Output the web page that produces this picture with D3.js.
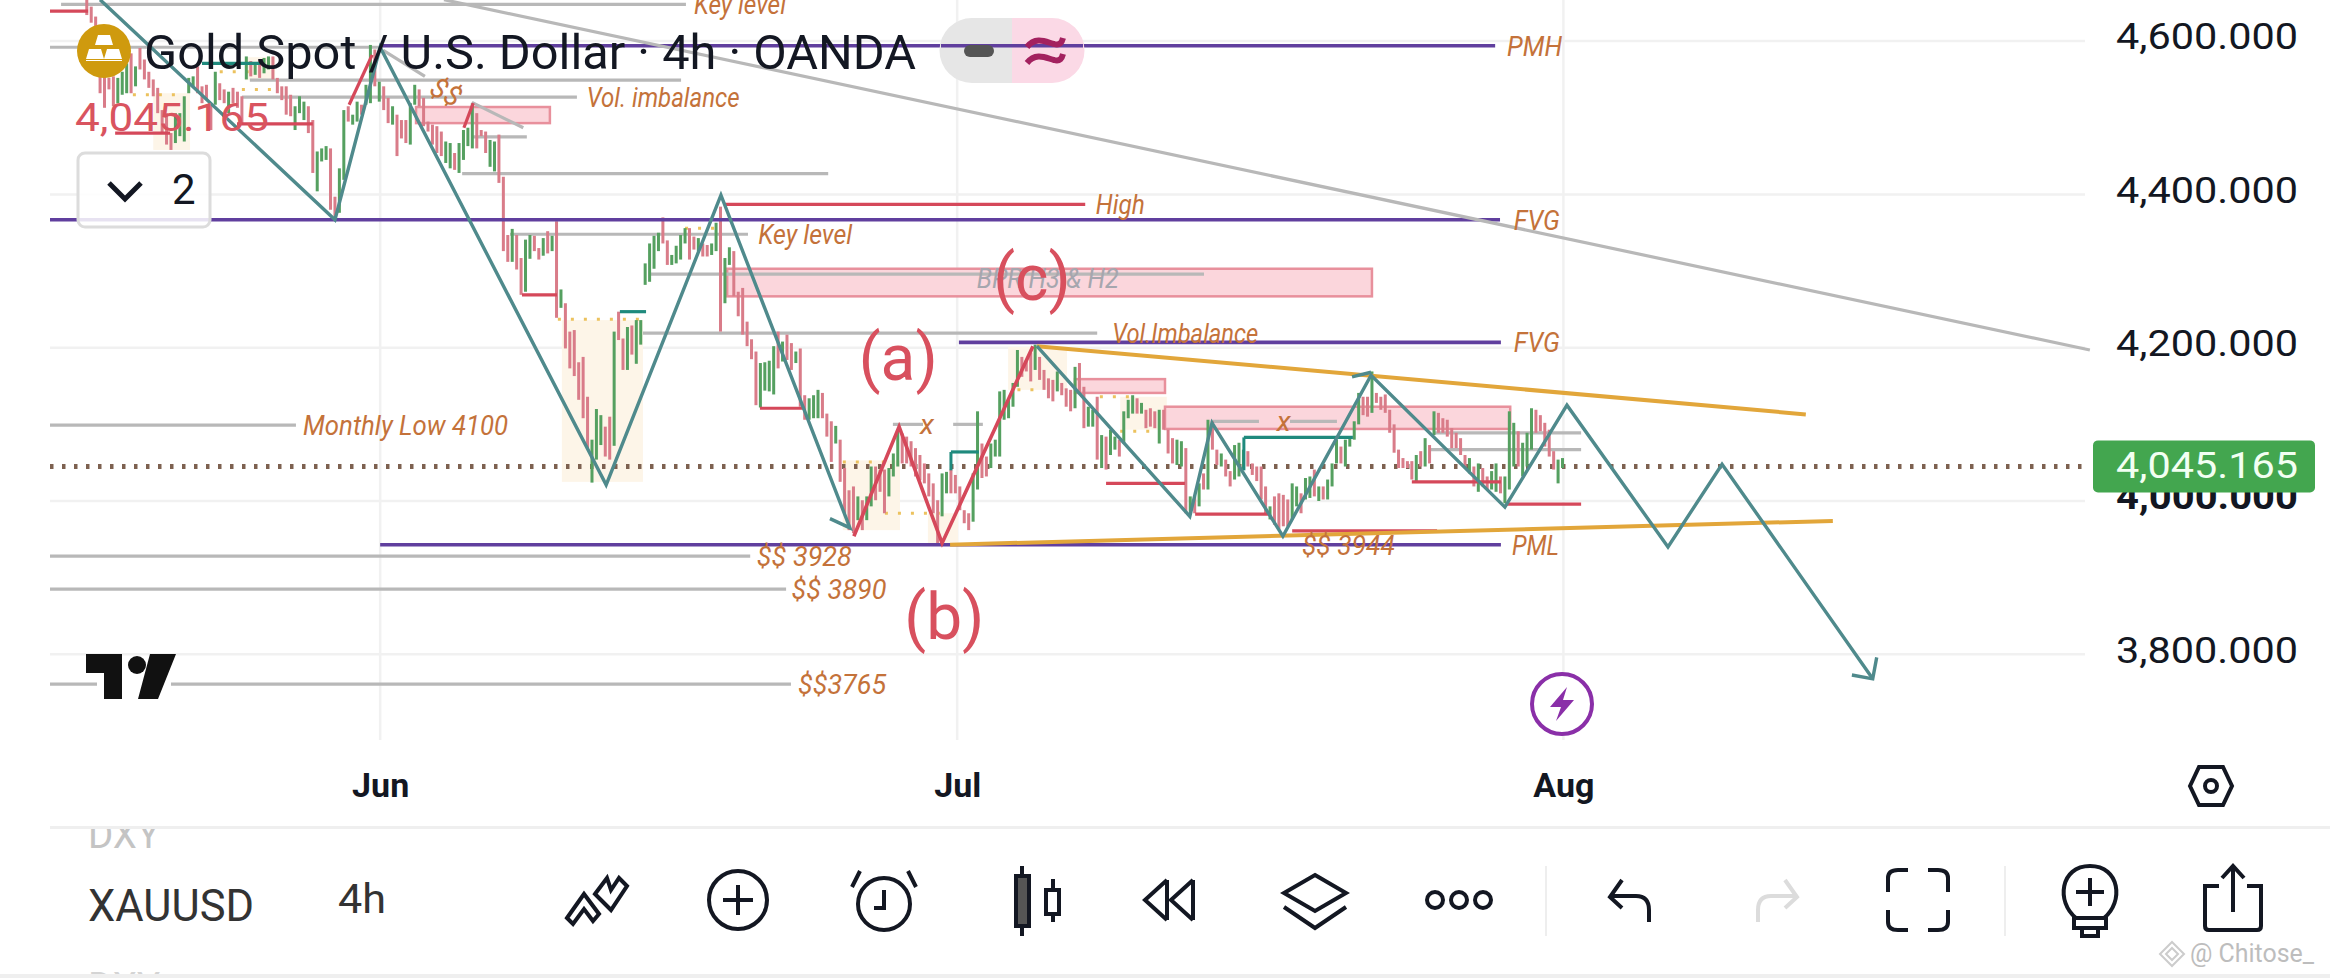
<!DOCTYPE html>
<html><head><meta charset="utf-8">
<script src="https://cdnjs.cloudflare.com/ajax/libs/d3/7.8.5/d3.min.js"></script>
<style>
html,body{margin:0;padding:0;background:#fff;overflow:hidden}
svg{display:block}
text{font-family:Roboto,"Liberation Sans",sans-serif}
.note{font-style:italic;fill:#c4723a;font-size:28px}
</style></head><body><svg id="c" width="2330" height="978"></svg>
<script>
// ---- Data ----
const priceTicks=[4600,4400,4200,4000,3800];
const monthLabels=["Jun","Jul","Aug"];
const monthBars=[66.2,196.4,333.2];
const lastPrice=4045.165;
const barHigh=[
4654,4645,4632,4589,4554,4552,4554,4552,4560,4571,
4584,4567,4591,4576,4560,4550,4539,4510,4506,4480,
4506,4506,4528,4552,4554,4567,4541,4543,4519,4560,
4545,4537,4534,4539,4534,4528,4580,4574,4571,4576,
4578,4580,4580,4552,4541,4541,4530,4515,4528,4521,
4515,4497,4456,4460,4463,4460,4397,4434,4510,4515,
4504,4521,4517,4543,4595,4589,4547,4541,4526,4515,
4504,4497,4497,4519,4543,4537,4526,4495,4491,4489,
4482,4469,4467,4454,4467,4484,4487,4519,4506,4484,
4482,4471,4469,4478,4423,4347,4355,4347,4317,4341,
4347,4346,4330,4343,4352,4346,4365,4276,4258,4221,
4223,4181,4188,4136,4080,4120,4112,4097,4110,4221,
4247,4212,4227,4229,4236,4236,4310,4336,4346,4350,
4370,4340,4321,4333,4347,4356,4356,4345,4343,4336,
4334,4336,4363,4384,4317,4331,4326,4273,4278,4234,
4211,4195,4180,4181,4183,4202,4221,4208,4217,4206,
4195,4199,4138,4134,4138,4145,4141,4114,4104,4098,
4080,4043,4014,4019,4006,4001,4006,4045,4045,4041,
4041,4043,4062,4093,4088,4084,4078,4069,4060,4049,
4036,4023,4001,4036,4038,4041,4034,4019,3988,3984,
4036,4117,4075,4058,4075,4080,4143,4145,4134,4154,
4197,4188,4184,4193,4204,4188,4171,4160,4158,4169,
4154,4147,4145,4175,4180,4149,4123,4119,4136,4086,
4084,4093,4084,4080,4117,4132,4138,4134,4128,4119,
4121,4117,4119,4119,4093,4082,4080,4078,4069,4006,
4006,4023,4036,4106,4104,4067,4062,4054,4039,4073,
4076,4067,4065,4049,4045,4045,4019,3993,4006,4010,
4008,4002,4023,4019,4010,4030,4032,4041,4019,4019,
4028,4049,4080,4071,4080,4084,4104,4141,4136,4136,
4169,4141,4136,4139,4119,4100,4067,4056,4052,4052,
4060,4065,4082,4073,4117,4115,4108,4106,4095,4089,
4082,4060,4056,4045,4049,4043,4032,4039,4049,4032,
4032,4117,4102,4091,4076,4089,4121,4119,4112,4102,
4093,4065,4054,4056];
const barLow=[
4634,4624,4613,4532,4513,4537,4515,4519,4530,4532,
4532,4541,4563,4550,4539,4528,4506,4480,4465,4458,
4467,4476,4469,4532,4541,4532,4519,4523,4484,4517,
4523,4519,4506,4519,4513,4493,4550,4554,4556,4552,
4558,4563,4550,4532,4523,4504,4502,4484,4506,4497,
4480,4428,4404,4443,4445,4380,4367,4376,4419,4495,
4491,4495,4504,4517,4519,4541,4521,4510,4493,4491,
4450,4473,4467,4465,4517,4515,4489,4482,4465,4454,
4450,4441,4434,4432,4428,4445,4463,4460,4460,4476,
4454,4436,4430,4415,4326,4312,4312,4302,4269,4273,
4316,4326,4315,4320,4323,4326,4239,4252,4199,4173,
4163,4132,4108,4069,4024,4054,4073,4058,4054,4072,
4210,4171,4171,4191,4179,4204,4282,4286,4303,4326,
4336,4308,4308,4310,4315,4336,4315,4328,4326,4319,
4319,4321,4326,4221,4258,4308,4267,4241,4217,4202,
4185,4125,4122,4144,4143,4139,4173,4182,4184,4171,
4180,4123,4106,4106,4108,4108,4108,4084,4051,4075,
4025,3984,3962,3958,3975,3962,3975,3993,4001,4012,
3984,4006,4032,4045,4049,4049,4045,4032,4027,4023,
4006,3984,3945,3980,4010,4010,4010,3988,3971,3962,
3973,4015,4030,4032,4043,4058,4058,4106,4108,4123,
4149,4162,4169,4156,4171,4158,4145,4134,4130,4143,
4138,4123,4117,4121,4141,4095,4097,4097,4054,4043,
4041,4060,4067,4058,4075,4108,4114,4114,4114,4095,
4097,4095,4075,4093,4062,4049,4047,4045,3984,3984,
3984,3993,4015,4015,4067,4047,4045,4032,4019,4028,
4032,4041,4045,4034,4026,4002,3984,3976,3969,3963,
3967,3967,3976,3993,3984,4002,4004,4006,4000,4002,
4002,4019,4049,4049,4045,4071,4080,4100,4112,4110,
4115,4128,4119,4115,4089,4063,4043,4043,4043,4028,
4026,4045,4045,4049,4086,4089,4089,4084,4069,4069,
4060,4043,4036,4019,4012,4019,4015,4015,4012,4010,
3997,4015,4045,4045,4032,4045,4067,4089,4091,4071,
4058,4041,4023,4043];
const barDirs=("0000000111"+"0100000000"+"1111100001"+"0010001010"+"1100000111"+"0011100110"+"1101101001"+"0001100000"+"0110111100"+"0110001001"
+"1001010100"+"0000111001"+"0010111111"+"0011110010"+"0110110000"+"0011110100"+"1001110001"+"0000101100"+"0111000000"+"0001100000"
+"1100111111"+"1000100001"+"0001001101"+"0110111010"+"0010001101"+"0101001001"+"1100000100"+"0011011010"+"1110111100"+"1000000000"
+"1010100000"+"0010100110"+"1110111000"+"0011").split("").map(Number);
// horizontal levels: [from bar, to bar, price]
const grayLevels=[[-5.8,135.2,4648],[-8.3,66.2,4592],[36.8,134.1,4549],[35,110.6,4527],[86.9,99.3,4475],[84.7,167.3,4427],[95.5,149.2,4348],[127.1,252.1,4296],[125.5,228,4219],[181.9,188.7,4100],[195.5,202.2,4100],[253.9,264.5,4104],[271.5,282.1,4104],[303.8,337.2,4089],[303.1,337.2,4067],[-8.3,47.2,4099],[-8.3,149.7,3928],[-8.3,157.8,3885],[-8.3,158.9,3761]];
const purpleLevels=[[66.2,317.8,4594],[-8.3,318.9,4367],[196.8,319.1,4207],[66.2,319.1,3943]];
const redLevels=[[-8.3,0.3,4639],[33.9,51,4492],[6.4,18.8,4480],[144,225.3,4387],[98.2,106.1,4269],[151.9,162,4121],[230,247.8,4023],[250.1,267,3983],[299,319.1,4025],[320.2,337.2,3996],[272,304.7,3961]];
const tealLevels=[[120.3,126.2,4247],[195,201.3,4064],[261.1,285.7,4083],[26,39.1,4571]];
const tealDrops=[[195,4064,4040],[261.1,4083,4040]];
const dottedLevels=[[106.3,124.8,4237],[170.6,181.3,4051],[180.1,192.5,3984],[210,215.8,4145],[228.6,236.1,4136],[233.2,242.2,4091],[135,142.5,4356],[10.4,21.7,4530],[30,39.1,4560],[35,42,4537]];
// zones: [from bar, to bar, top price, bottom price]
const pinkZones=[[74.3,104.5,4514,4493],[144.5,290,4303,4267],[223,243.3,4159,4141],[243.3,321.2,4123,4094]];
const beigeZones=[[107.2,125.5,4236,4025],[170.6,183.5,4053,3962],[189.8,196.6,3984,3943],[207.9,221.2,4201,4145],[233.2,243.7,4136,4093],[15,23.3,4532,4458],[35.7,42.5,4579,4549]];
// polylines: [bar, price]
const tealPathA=[[3,4654],[56,4367],[66.2,4592],[117.2,4021],[143.1,4399],[172.2,3965],[167.7,3977]];
const tealPathB=[[214.4,4202],[248.9,3980],[253.9,4102],[269.9,3954],[289.8,4164],[320,3992],[334,4125],[356.8,3940],[369,4048],[403,3768]];
const tealArrow=[[398.3,3773],[403,3768],[403.9,3796]];
const tealTick=[[285.5,4162],[289.8,4168]];
const redPath=[[173.1,3954],[183.3,4097],[193,3945],[213.5,4202]];
const redShort=[[[59.2,4517],[64.4,4582]],[[85.1,4487],[87.2,4519]]];
const grayDiagonals=[[[80.6,4654],[452,4197]],[[66.9,4588],[76.3,4554]],[[86.9,4520],[98.5,4487]]];
const orangeLines=[[[214.4,4202],[387.9,4113]],[[194.8,3943],[394,3974]]];
// notes: [text, bar, price, width of text]
const notes=[["Key level",137,4648,92],["Vol. imbalance",112.8,4527,153],["Monthly Low 4100",48.8,4099,205],["Key level",151.5,4348,94],["High",227.7,4387,49],["Vol.Imbalance",231.4,4219,146],["$$ 3928",151.2,3928,95],["$$ 3890",159,3885,95],["$$3765",160.5,3761,88],["$$ 3944",274.2,3943,93],["PMH",320.5,4594,55],["FVG",322,4367,46],["FVG",322,4207,46],["PML",321.6,3943,47],["x",188,4100,14],["x",268.5,4104,14]];
const waveLabels=[["(a)",183.1,4158],["(b)",193.5,3820],["(c)",213.3,4262]];

// ---- Scales ----
const W=2330,H=978;
const x=d3.scaleLinear().domain([-8.3,450.9]).range([50,2085]);
const y=d3.scaleLinear().domain([4000,4600]).range([501,41.1]);
const svg=d3.select("#c");
const line=d3.line().x(d=>x(d[0])).y(d=>y(d[1]));
const clip=svg.append("defs").append("clipPath").attr("id","plot").append("rect").attr("x",50).attr("y",0).attr("width",2045).attr("height",740);
const plot=svg.append("g").attr("clip-path","url(#plot)");

// grid
plot.selectAll(".gh").data(priceTicks).join("line").attr("x1",50).attr("x2",2085).attr("y1",d=>y(d)).attr("y2",d=>y(d)).attr("stroke","#f1f1f1").attr("stroke-width",2.5);
plot.selectAll(".gv").data(monthBars).join("line").attr("x1",d=>x(d)).attr("x2",d=>x(d)).attr("y1",0).attr("y2",740).attr("stroke","#f1f1f1").attr("stroke-width",2.5);

// zones
plot.selectAll(".bz").data(beigeZones).join("rect").attr("x",d=>x(d[0])).attr("width",d=>x(d[1])-x(d[0])).attr("y",d=>y(d[2])).attr("height",d=>y(d[3])-y(d[2])).attr("fill","#fdf5e8");
plot.selectAll(".pz").data(pinkZones).join("rect").attr("x",d=>x(d[0])).attr("width",d=>x(d[1])-x(d[0])).attr("y",d=>y(d[2])).attr("height",d=>y(d[3])-y(d[2])).attr("fill","#fbd6dc").attr("stroke","#e8909c").attr("stroke-width",2.5);

function levels(data,color,w,dash){
  plot.append("g").selectAll("line").data(data).join("line").attr("x1",d=>x(d[0])).attr("x2",d=>x(d[1])).attr("y1",d=>y(d[2])).attr("y2",d=>y(d[2])).attr("stroke",color).attr("stroke-width",w).attr("stroke-dasharray",dash||null);
}
levels(grayLevels,"#b8b8b8",3.2);
levels(dottedLevels,"#ecc25e",3,"3 10");

// last price dotted line
plot.append("line").attr("x1",50).attr("x2",2085).attr("y1",y(lastPrice)).attr("y2",y(lastPrice)).attr("stroke","#7d6150").attr("stroke-width",5).attr("stroke-dasharray","3.5 8.5");

// bars
plot.append("g").selectAll("rect").data(barHigh).join("rect")
  .attr("x",(d,i)=>x(i)-1.5).attr("width",3)
  .attr("y",d=>y(d)).attr("height",(d,i)=>y(barLow[i])-y(d))
  .attr("fill",(d,i)=>barDirs[i]?"#55a060":"#d97c89");

levels(redLevels,"#d5485a",3.2);
levels(tealLevels,"#1f8a7d",3.2);
plot.append("g").selectAll("line").data(tealDrops).join("line").attr("x1",d=>x(d[0])).attr("x2",d=>x(d[0])).attr("y1",d=>y(d[1])).attr("y2",d=>y(d[2])).attr("stroke","#1f8a7d").attr("stroke-width",3);
levels(purpleLevels,"#603f9e",3.6);

function path(data,color,w){plot.append("path").attr("d",line(data)).attr("fill","none").attr("stroke",color).attr("stroke-width",w).attr("stroke-linejoin","miter");}
grayDiagonals.forEach(d=>path(d,"#b8b8b8",3.2));
orangeLines.forEach(d=>path(d,"#e2a63a",4));
redShort.forEach(d=>path(d,"#d5485a",3.2));
path(redPath,"#d5485a",3.6);
path(tealPathA,"#4f8a8c",3.4);
path(tealPathB,"#4f8a8c",3.4);
path(tealArrow,"#4f8a8c",3.4);
path(tealTick,"#4f8a8c",3.4);

// notes
plot.append("g").selectAll("text").data(notes).join("text").attr("class","note")
  .attr("x",d=>x(d[1])).attr("y",d=>y(d[2])+10).attr("textLength",d=>d[3]).attr("lengthAdjust","spacingAndGlyphs").text(d=>d[0]);
plot.append("text").attr("class","note").attr("transform",`translate(${x(77)},${y(4532)}) rotate(28)`).attr("font-size",28).text("$$");
plot.append("text").attr("x",x(200.8)).attr("y",y(4278)).attr("textLength",142).attr("lengthAdjust","spacingAndGlyphs").attr("font-style","italic").attr("font-size",27).attr("fill","#a6a6ae").text("BPR H3 & H2");
plot.selectAll(".wave").data(waveLabels).join("text").attr("x",d=>x(d[1])).attr("y",d=>y(d[2])).attr("text-anchor","middle").attr("font-size",64).attr("fill","#d8505e").text(d=>d[0]);

// right price axis
const fmt=d3.format(",.3f");
const yAxis=d3.axisRight(y).tickValues(priceTicks).tickFormat(fmt).tickSize(0).tickPadding(0);
const ya=svg.append("g").attr("transform","translate(2298,-4)").call(yAxis);
ya.select(".domain").remove();
ya.selectAll("text").attr("text-anchor","end").attr("font-size",37).attr("fill","#131722").attr("font-family","Roboto").attr("font-weight",d=>d===4000?700:400).attr("textLength",182).attr("lengthAdjust","spacingAndGlyphs");
// last price tag
svg.append("rect").attr("x",2093).attr("y",y(lastPrice)-26).attr("width",222).attr("height",52).attr("rx",5).attr("fill","#43a64f");
svg.append("text").attr("x",2298).attr("y",y(lastPrice)+12).attr("text-anchor","end").attr("font-size",37).attr("textLength",182).attr("lengthAdjust","spacingAndGlyphs").attr("fill","#f2fff2").text(fmt(lastPrice));

// bottom time axis
const xAxis=d3.axisBottom(x).tickValues(monthBars).tickFormat((d,i)=>monthLabels[i]).tickSize(0).tickPadding(0);
const xa=svg.append("g").attr("transform","translate(0,773)").call(xAxis);
xa.select(".domain").remove();
xa.selectAll("text").attr("font-size",34).attr("font-weight",700).attr("fill","#131722").attr("font-family","Roboto").attr("dy","0.7em");

// legend block
svg.append("text").attr("x",144).attr("y",69).attr("font-size",49).attr("fill","#131722").attr("textLength",772).attr("lengthAdjust","spacingAndGlyphs").text("Gold Spot / U.S. Dollar · 4h · OANDA");
const logo=svg.append("g").attr("transform","translate(104,51)");
logo.append("circle").attr("r",27).attr("fill","#cf9a0e");
logo.append("path").attr("fill","#fff").attr("d","M-6,-16 H6 L9,-6 H-9 Z M-15,-2 H-3 L0,8 H-18 Z M3,-2 H15 L18,8 H0 Z M-18,10 H18 V9 H-18 Z");
svg.append("text").attr("x",75).attr("y",131).attr("font-size",39).attr("fill","#d9545f").attr("textLength",194).attr("lengthAdjust","spacingAndGlyphs").text("4,045.165");
svg.append("rect").attr("x",78).attr("y",153).attr("width",132).attr("height",74).attr("rx",7).attr("fill","rgba(255,255,255,0.85)").attr("stroke","#dcdcdc").attr("stroke-width",3);
svg.append("path").attr("d","M109,183 L125,199 L141,183").attr("fill","none").attr("stroke","#131722").attr("stroke-width",5);
svg.append("text").attr("x",172).attr("y",204).attr("font-size",42).attr("fill","#131722").text("2");
// pill
svg.append("path").attr("d","M1012,18 H972 A32,32 0 0 0 972,83 H1012 Z").attr("fill","#e6e6e6");
svg.append("path").attr("d","M1012,18 H1052 A32,32 0 0 1 1052,83 H1012 Z").attr("fill","#fbd9e6");
svg.append("line").attr("x1",941).attr("x2",1083).attr("y1",y(4594)).attr("y2",y(4594)).attr("stroke","#603f9e").attr("stroke-width",3.6);
svg.append("rect").attr("x",964).attr("y",45).attr("width",30).attr("height",12).attr("rx",6).attr("fill","#555");
svg.append("path").attr("d","M1027,47 C1036,36 1046,42 1054,44 C1060,46 1062,42 1063,38 M1027,63 C1036,52 1046,58 1054,60 C1060,62 1062,58 1063,54").attr("fill","none").attr("stroke","#a3215f").attr("stroke-width",6);

// TV logo
const tv=svg.append("g");
tv.append("rect").attr("x",97).attr("y",679).attr("width",74).attr("height",10).attr("fill","#fff");
tv.append("path").attr("fill","#111").attr("d","M86,654 H122 V699 H104 V673 H86 Z M150,654 H176 L158,699 H138 Z");
tv.append("circle").attr("cx",137).attr("cy",665).attr("r",9).attr("fill","#111");

// lightning badge
const bolt=svg.append("g").attr("transform","translate(1562,704)");
bolt.append("circle").attr("r",30).attr("fill","#fff").attr("stroke","#8a2fa8").attr("stroke-width",4);
bolt.append("path").attr("d","M5,-17 L-12,3 H-1 L-6,17 L12,-4 H1 Z").attr("fill","#8a2fa8");

// separators
svg.append("rect").attr("x",50).attr("y",826).attr("width",2280).attr("height",3).attr("fill","#efefef");
svg.append("rect").attr("x",0).attr("y",974).attr("width",2330).attr("height",4).attr("fill","#efefef");

// bottom toolbar
svg.select("defs").append("clipPath").attr("id","bar").append("rect").attr("x",0).attr("y",829).attr("width",2330).attr("height",145);
const bar=svg.append("g").attr("clip-path","url(#bar)");
bar.append("text").attr("x",88).attr("y",848).attr("font-size",39).attr("textLength",72).attr("lengthAdjust","spacingAndGlyphs").attr("fill","#c4c4c4").text("DXY");
bar.append("text").attr("x",88).attr("y",1000).attr("font-size",39).attr("textLength",72).attr("lengthAdjust","spacingAndGlyphs").attr("fill","#d4d4d4").text("DXY");
svg.append("text").attr("x",88).attr("y",921).attr("font-size",45).attr("textLength",166).attr("lengthAdjust","spacingAndGlyphs").attr("fill","#333").text("XAUUSD");
svg.append("text").attr("x",338).attr("y",913).attr("font-size",40).attr("textLength",48).attr("lengthAdjust","spacingAndGlyphs").attr("fill","#333").text("4h");

const ic=(cx,cy)=>svg.append("g").attr("transform",`translate(${cx},${cy})`).attr("fill","none").attr("stroke","#131722").attr("stroke-width",4);
// drawing
let g=ic(597,900);
g.append("path").attr("d","M-30,18 L-13,-6 L2,14 L-4,21 L-13,9 L-24,24 Z M-2,-6 L10,-22 L14,-10 L22,-22 L30,-14 L14,10 Z");
// add
g=ic(738,900);g.append("circle").attr("r",29);g.append("path").attr("d","M-15,0 H15 M0,-15 V15");
// alarm
g=ic(884,900);g.append("circle").attr("r",26).attr("cy",4);g.append("path").attr("d","M0,-10 V8 H-10 M-32,-13 L-24,-29 M32,-13 L24,-29");
// candles
g=ic(1029,900);g.append("rect").attr("x",-13).attr("y",-24).attr("width",13).attr("height",50).attr("fill","#555");g.append("path").attr("d","M-7,-34 V-24 M-7,26 V36 M24,-21 V-10 M24,14 V22");g.append("rect").attr("x",17).attr("y",-10).attr("width",13).attr("height",24);
// rewind
g=ic(1171,900);g.append("path").attr("d","M-4,-20 L-26,0 L-4,20 M22,-20 L0,0 L22,20 M-4,-20 V20 M22,-20 V20");
// layers
g=ic(1315,893);g.append("path").attr("d","M0,-18 L31,0 L0,18 L-31,0 Z M-31,14 L0,35 L31,14");
// dots
g=ic(1459,900);[-24,0,24].forEach(c=>g.append("circle").attr("cx",c).attr("r",8));
// undo / redo
g=ic(1630,900);g.append("path").attr("d","M-8,-20 L-20,-3 L-8,8 M-20,-4 H6 Q19,-4 19,10 V22");
g=ic(1777,900).attr("stroke","#dcdcdc");g.append("path").attr("d","M8,-20 L20,-3 L8,8 M20,-4 H-6 Q-19,-4 -19,10 V22");
// fullscreen
g=ic(1918,900);g.append("path").attr("d","M-30,-8 V-22 Q-30,-30 -20,-30 H-10 M10,-30 H20 Q30,-30 30,-22 V-8 M30,10 V22 Q30,30 20,30 H10 M-10,30 H-20 Q-30,30 -30,22 V10");
// bulb
g=ic(2090,896);g.append("path").attr("d","M-14,22 C-34,6 -30,-30 0,-30 C30,-30 34,6 14,22 Z M-16,22 H16 V32 H-16 Z M-8,32 V40 H8 V32 M-14,-4 H14 M0,-18 V10");
// share
g=ic(2233,900);g.append("path").attr("d","M-14,-14 H-28 V26 Q-28,30 -24,30 H24 Q28,30 28,26 V-14 H14 M0,12 V-34 M-11,-22 L0,-34 L11,-22");
// settings
g=ic(2211,786);g.append("path").attr("d","M-21,0 L-12,-19 H12 L21,0 L12,19 H-12 Z");g.append("circle").attr("r",6);
// toolbar separators
[1546,2005].forEach(v=>svg.append("line").attr("x1",v).attr("x2",v).attr("y1",866).attr("y2",936).attr("stroke","#eee").attr("stroke-width",2));
// watermark
svg.append("path").attr("d","M2172,942 L2184,954 L2172,966 L2160,954 Z M2172,948 L2178,954 L2172,960 L2166,954 Z").attr("fill","none").attr("stroke","#ccc").attr("stroke-width",2);
svg.append("text").attr("x",2190).attr("y",962).attr("font-size",26).attr("fill","#bdbdbd").attr("textLength",124).attr("lengthAdjust","spacingAndGlyphs").text("@ Chitose_");
</script></body></html>
